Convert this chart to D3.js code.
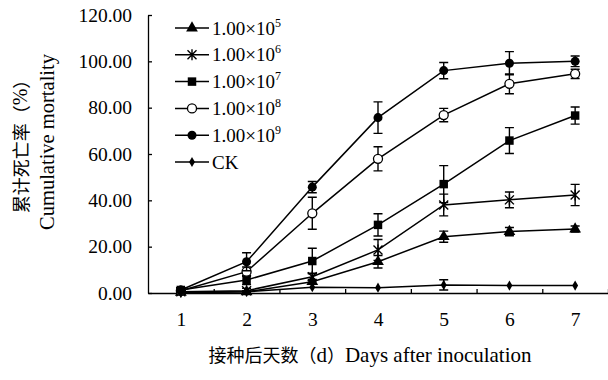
<!DOCTYPE html>
<html>
<head>
<meta charset="utf-8">
<script src="https://cdn.jsdelivr.net/npm/d3@7"></script>
<style>
  body { margin: 0; background: #fff; }
</style>
</head>
<body>
<div id="chart"></div>
<script>
// days after inoculation
var days = [1, 2, 3, 4, 5, 6, 7];
var yTicks = [0, 20, 40, 60, 80, 100, 120];

// legend labels: base + exponent (CK has none)
var labelBase = ["1.00×10", "1.00×10", "1.00×10", "1.00×10", "1.00×10", "CK"];
var labelExp = ["5", "6", "7", "8", "9", ""];
var symbols = ["triangle", "asterisk", "square", "openCircle", "circle", "diamond"];

// cumulative mortality (%) and error
var m1e5 = [0.3, 0.5, 4.9, 13.5, 24.3, 26.5, 27.6];
var e1e5 = [0.5, 0.5, 1.0, 2.7, 2.4, 1.8, 1.3];
var m1e6 = [0.5, 1.0, 7.0, 18.6, 38.0, 40.2, 42.3];
var e1e6 = [0.5, 1.0, 1.5, 4.5, 4.7, 3.4, 4.6];
var m1e7 = [1.3, 5.6, 13.8, 29.4, 47.0, 65.8, 76.6];
var e1e7 = [1.0, 2.0, 5.5, 4.8, 8.0, 5.6, 3.7];
var m1e8 = [1.0, 9.2, 34.4, 57.9, 76.8, 90.3, 94.6];
var e1e8 = [1.0, 2.0, 6.9, 5.2, 2.9, 4.3, 2.0];
var m1e9 = [1.3, 13.5, 45.7, 75.7, 96.0, 99.2, 100.0];
var e1e9 = [1.0, 3.9, 2.4, 6.8, 3.5, 5.0, 2.3];
var mCK = [0.0, 0.5, 2.5, 2.3, 3.5, 3.2, 3.2];
var eCK = [0.0, 0.0, 0.0, 0.0, 2.2, 0.0, 0.0];

var means = [m1e5, m1e6, m1e7, m1e8, m1e9, mCK];
var errs = [e1e5, e1e6, e1e7, e1e8, e1e9, eCK];

var SERIF = "'Liberation Serif', 'Times New Roman', serif";
var CJK = "'Noto Sans CJK SC', sans-serif";

var width = 608, height = 380;
var margin = { left: 148, right: 0, top: 15, bottom: 87 };

var svg = d3.select("#chart").append("svg")
    .attr("width", width)
    .attr("height", height);

var x = d3.scaleLinear().domain([0.5, 7.5]).range([margin.left, width - margin.right]);
var y = d3.scaleLinear().domain([0, 120]).range([height - margin.bottom, margin.top]);

function styleAxis(g) {
    g.selectAll("path, line").style("stroke", "#000").style("stroke-width", 1.3);
    g.selectAll("text")
        .style("font-family", SERIF)
        .style("font-size", "19.5px")
        .style("fill", "#000");
}

// y axis, ticks pointing inward
svg.append("g")
    .attr("transform", "translate(" + margin.left + ",0)")
    .call(d3.axisLeft(y).tickValues(yTicks).tickSize(-4).tickSizeOuter(0).tickPadding(16)
        .tickFormat(d3.format(".2f")))
    .call(styleAxis);

// x axis: tick marks between days
svg.append("g")
    .attr("transform", "translate(0," + y(0) + ")")
    .call(d3.axisBottom(x).tickValues(d3.range(1.5, 8, 1)).tickSize(-4).tickSizeOuter(0).tickFormat(""))
    .call(styleAxis);

// x labels at day centres
var xl = svg.append("g")
    .attr("transform", "translate(0," + y(0) + ")")
    .call(d3.axisBottom(x).tickValues(days).tickSize(0).tickPadding(19).tickFormat(d3.format("d")))
    .call(styleAxis);
xl.select(".domain").remove();

function markerPath(type) {
    if (type === "triangle") return d3.symbol(d3.symbolTriangle, 60)();
    if (type === "square") return d3.symbol(d3.symbolSquare, 72)();
    if (type === "circle" || type === "openCircle") return d3.symbol(d3.symbolCircle, 64)();
    if (type === "diamond") return d3.symbol(d3.symbolDiamond, 30)();
    // asterisk: X plus vertical stroke
    var r = 4.5;
    return "M" + (-r) + "," + (-r) + "L" + r + "," + r +
        "M" + (-r) + "," + r + "L" + r + "," + (-r) +
        "M0," + (-r - 1) + "L0," + (r + 1);
}

function drawMarker(g, type) {
    var p = g.append("path").attr("d", markerPath(type));
    if (type === "openCircle") p.attr("fill", "#fff").attr("stroke", "#000").attr("stroke-width", 1.3);
    else if (type === "asterisk") p.attr("fill", "none").attr("stroke", "#000").attr("stroke-width", 1.4);
    else p.attr("fill", "#000");
}

var line = d3.line()
    .x(function (d, i) { return x(days[i]); })
    .y(function (d) { return y(d); });

var cap = 4.5;
means.forEach(function (vals, s) {
    var g = svg.append("g");
    // error bars
    vals.forEach(function (v, i) {
        var e = errs[s][i];
        if (e <= 0) return;
        var cx = x(days[i]);
        g.append("path")
            .attr("d", "M" + (cx - cap) + "," + y(v + e) + "H" + (cx + cap) +
                "M" + cx + "," + y(v + e) + "V" + y(v - e) +
                "M" + (cx - cap) + "," + y(v - e) + "H" + (cx + cap))
            .attr("fill", "none")
            .attr("stroke", "#000")
            .attr("stroke-width", 1.4);
    });
    g.append("path")
        .datum(vals)
        .attr("d", line)
        .attr("fill", "none")
        .attr("stroke", "#000")
        .attr("stroke-width", 1.5);
    vals.forEach(function (v, i) {
        var mg = g.append("g").attr("transform", "translate(" + x(days[i]) + "," + y(v) + ")");
        drawMarker(mg, symbols[s]);
    });
});

// legend
var legY0 = 28, legStep = 26.8;
labelBase.forEach(function (lab, i) {
    var ly = legY0 + i * legStep;
    var lg = svg.append("g").attr("transform", "translate(0," + ly + ")");
    lg.append("line")
        .attr("x1", 175).attr("x2", 209)
        .attr("stroke", "#000").attr("stroke-width", 1.5);
    var mg = lg.append("g").attr("transform", "translate(192,0)");
    drawMarker(mg, symbols[i]);
    var t = lg.append("text")
        .attr("x", 212)
        .attr("y", 6.5)
        .style("font-family", SERIF)
        .style("font-size", "19px")
        .text(lab);
    if (labelExp[i]) {
        t.append("tspan")
            .attr("dy", -8)
            .style("font-size", "12px")
            .text(labelExp[i]);
    }
});

// y title (two rotated lines)
var yt = svg.append("g").attr("transform", "translate(0,142) rotate(-90)");
var yt1 = yt.append("text")
    .attr("x", 0).attr("y", 20)
    .attr("text-anchor", "middle")
    .attr("dominant-baseline", "central")
    .style("font-size", "18px");
yt1.append("tspan").style("font-family", CJK).text("累计死亡率（");
yt1.append("tspan").style("font-family", SERIF).style("font-size", "20px").text("%");
yt1.append("tspan").style("font-family", CJK).text("）");
yt.append("text")
    .attr("x", 0).attr("y", 47)
    .attr("text-anchor", "middle")
    .attr("dominant-baseline", "central")
    .style("font-family", SERIF)
    .style("font-size", "20.5px")
    .text("Cumulative mortality");

// x title
var xt = svg.append("text")
    .attr("x", 370).attr("y", 362)
    .attr("text-anchor", "middle")
    .style("font-size", "18px");
xt.append("tspan").style("font-family", CJK).text("接种后天数（");
xt.append("tspan").style("font-family", SERIF).style("font-size", "21px").text("d");
xt.append("tspan").style("font-family", CJK).text("）");
xt.append("tspan").style("font-family", SERIF).style("font-size", "21px").text("Days after inoculation");
</script>
</body>
</html>
